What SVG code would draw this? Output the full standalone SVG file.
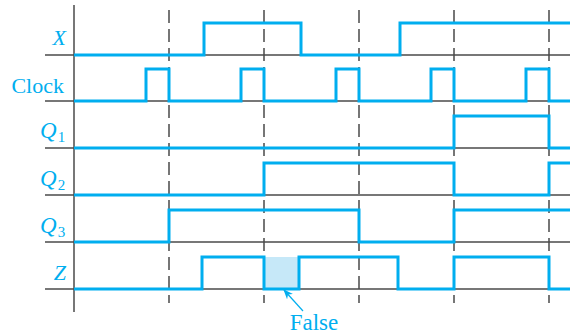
<svg xmlns="http://www.w3.org/2000/svg" width="570" height="336" viewBox="0 0 570 336">
<style>
.axis{stroke:#4a4a4a;stroke-width:1.5;fill:none}
.base{stroke:#4a4a4a;stroke-width:1.5;fill:none}
.dash{stroke:#4a4a4a;stroke-width:1.5;stroke-dasharray:13 6;fill:none}
.sig{stroke:#00aeef;stroke-width:3;fill:none;stroke-linejoin:miter}
.lbl{font-family:"Liberation Serif","Times New Roman",serif;font-size:22px;fill:#00aeef}
.it{font-style:italic}
.q{font-size:23px}
.sub{font-size:15px;font-style:normal}
.arr{stroke:#00aeef;stroke-width:1.2;fill:none}
</style>
<defs>
<marker id="ah" markerWidth="10" markerHeight="8" refX="9" refY="4" orient="auto" markerUnits="userSpaceOnUse">
<path d="M0,0 L10,4 L0,8 L3,4 Z" fill="#00aeef"/>
</marker>
</defs>
<rect width="570" height="336" fill="#ffffff"/>
<g id="grid">
<line class="axis" x1="74" y1="5" x2="74" y2="312"/>
<line class="dash" x1="169" y1="10" x2="169" y2="303"/>
<line class="dash" x1="264" y1="10" x2="264" y2="303"/>
<line class="dash" x1="359" y1="10" x2="359" y2="303"/>
<line class="dash" x1="454" y1="10" x2="454" y2="303"/>
<line class="dash" x1="549" y1="10" x2="549" y2="303"/>
<line class="base" x1="45" y1="55" x2="570" y2="55"/>
<line class="base" x1="45" y1="101" x2="570" y2="101"/>
<line class="base" x1="45" y1="148" x2="570" y2="148"/>
<line class="base" x1="45" y1="195" x2="570" y2="195"/>
<line class="base" x1="45" y1="242" x2="570" y2="242"/>
<line class="base" x1="45" y1="289" x2="570" y2="289"/>
</g>
<g id="sigX">
<text class="lbl it" x="66" y="45" text-anchor="end">X</text>
<path class="sig" d="M74,55 H204 V23 H301 V55 H400 V23 H570"/>
</g>
<g id="sigClock">
<text class="lbl" x="64" y="93" text-anchor="end">Clock</text>
<path class="sig" d="M74,101 H146 V69 H169 V101 H241 V69 H264 V101 H336 V69 H359 V101 H431 V69 H454 V101 H526 V69 H549 V101 H570"/>
</g>
<g id="sigQ1">
<text class="lbl it q" x="40" y="138">Q<tspan class="sub" dx="1" dy="4">1</tspan></text>
<path class="sig" d="M74,148 H454 V116 H549 V148 H570"/>
</g>
<g id="sigQ2">
<text class="lbl it q" x="40" y="186">Q<tspan class="sub" dx="1" dy="4">2</tspan></text>
<path class="sig" d="M74,195 H264 V163 H454 V195 H549 V163 H570"/>
</g>
<g id="sigQ3">
<text class="lbl it q" x="40" y="233">Q<tspan class="sub" dx="1" dy="4">3</tspan></text>
<path class="sig" d="M74,242 H169 V210 H359 V242 H454 V210 H570"/>
</g>
<g id="sigZ">
<text class="lbl it" x="66" y="280" text-anchor="end">Z</text>
<rect x="264" y="257" width="35" height="32" fill="#c6e8f8"/>
<path class="sig" d="M74,289 H202 V257 H264 V289 H299 V257 H398 V289 H454 V257 H549 V289 H570"/>
</g>
<g id="falseLabel">
<text class="lbl" x="314" y="330" text-anchor="middle" style="font-size:23px">False</text>
</g>
<g id="connectors">
<line class="arr" x1="303" y1="311" x2="284" y2="290" marker-end="url(#ah)"/>
</g>
</svg>
